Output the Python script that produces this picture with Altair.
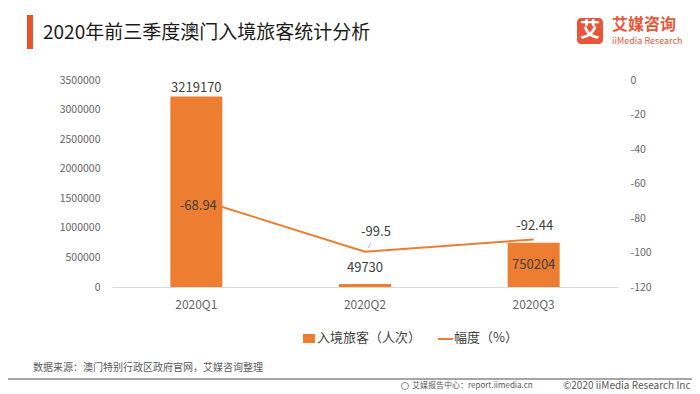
import altair as alt
import pandas as pd

quarters = ["2020Q1", "2020Q2", "2020Q3"]
visitors = [3219170, 49730, 750204]
change = [-68.94, -99.5, -92.44]

left_ticks = [0, 500000, 1000000, 1500000, 2000000, 2500000, 3000000, 3500000]
right_ticks = [0, -20, -40, -60, -80, -100, -120]

df = pd.DataFrame({"quarter": quarters, "visitors": visitors, "change": change})

FONT = "Noto Sans CJK SC"
ORANGE = "#ED7D31"
TXT = "#404040"
AX = "#666666"

xaxis = alt.Axis(title=None, labelAngle=0, ticks=False, domainColor="#D9D9D9",
                 domainWidth=1, labelFontSize=12, labelColor=AX, labelFont=FONT,
                 labelPadding=12)
xenc = alt.X("quarter:N", sort=quarters,
             scale=alt.Scale(paddingInner=0, paddingOuter=0), axis=xaxis)

yaxis1 = alt.Axis(title=None, values=left_ticks, grid=False, domain=False, ticks=False,
                  labelExpr="toString(datum.value)", labelFontSize=10.5, labelColor=AX,
                  labelFont=FONT, labelPadding=12)
yaxis2 = alt.Axis(title=None, orient="right", values=right_ticks, grid=False, domain=False,
                  ticks=False, labelExpr="toString(datum.value)", labelFontSize=10.5,
                  labelColor=AX, labelFont=FONT, labelPadding=12)

yscale1 = alt.Scale(domain=[0, 3500000], nice=False, zero=True)
yscale2 = alt.Scale(domain=[-120, 0], nice=False, zero=False)

y1 = alt.Y("visitors:Q", scale=yscale1, axis=yaxis1)
y2 = alt.Y("change:Q", scale=yscale2, axis=yaxis2)

bars = alt.Chart(df).mark_bar(size=52, color=ORANGE).encode(x=xenc, y=y1)

def bar_label(q, dy):
    return alt.Chart(df).transform_filter(alt.datum.quarter == q).mark_text(
        dy=dy, fontSize=13, color=TXT, font=FONT, baseline="middle"
    ).encode(x=xenc, y=y1, text=alt.Text("visitors:Q", format="d"))

left = alt.layer(bars, bar_label("2020Q1", -9), bar_label("2020Q2", -16), bar_label("2020Q3", 22))

line = alt.Chart(df).mark_line(color=ORANGE, strokeWidth=2).encode(x=xenc, y=y2)

def line_label(q, dx, dy):
    return alt.Chart(df).transform_filter(alt.datum.quarter == q).transform_calculate(
        lbl="toString(datum.change)"
    ).mark_text(dx=dx, dy=dy, fontSize=13, color=TXT, font=FONT, baseline="middle").encode(
        x=xenc, y=y2, text="lbl:N")

right = alt.layer(line, line_label("2020Q1", 2, 7), line_label("2020Q2", 11, -20),
                  line_label("2020Q3", 1, -13))

one = alt.Data(values=[{"a": 1}])

def txt(s, x, y, size, color, align="left", weight="normal"):
    return alt.Chart(one).mark_text(align=align, baseline="middle", fontSize=size, color=color,
                                    font=FONT, fontWeight=weight).encode(
        x=alt.value(x), y=alt.value(y), text=alt.value(s))

def rect(x1, x2, ya, yb, color, r=0):
    return alt.Chart(one).mark_rect(color=color, cornerRadius=r).encode(
        x=alt.value(x1), x2=alt.value(x2), y=alt.value(ya), y2=alt.value(yb))

def rule(x1, x2, ya, yb, color, w):
    return alt.Chart(one).mark_rule(color=color, strokeWidth=w).encode(
        x=alt.value(x1), x2=alt.value(x2), y=alt.value(ya), y2=alt.value(yb))

deco = [
    rect(-85, -79, -65, -31, "#E8552D"),
    txt("2020年前三季度澳门入境旅客统计分析", -69, -47, 19, "#1a1a1a"),
    rect(465, 491, -62, -36, "#E8563A", 4),
    txt("艾", 478, -49, 20, "white", align="center", weight="bold"),
    txt("艾媒咨询", 500, -55, 16, "#E8563A", weight="bold"),
    txt("iiMedia Research", 500, -39, 9, "#E8563A"),
    rule(256, 259, 168, 163, "#BFBFBF", 1),
    rect(191, 203, 254, 263, ORANGE),
    txt("入境旅客（人次）", 205, 258, 13, TXT),
    rule(326, 341, 259, 259, ORANGE, 2),
    txt("幅度（%）", 342, 258, 13, TXT),
    txt("数据来源：澳门特别行政区政府官网，艾媒咨询整理", -79, 288, 10, "#595959"),
    rule(-104, 580, 299, 299, "#A6A6A6", 2),
    alt.Chart(one).mark_point(shape="circle", size=50, color="#595959", strokeWidth=1).encode(
        x=alt.value(293), y=alt.value(306)),
    txt("艾媒报告中心：report.iimedia.cn", 300, 306, 8, "#595959"),
    txt("©2020  iiMedia Research  Inc", 451, 306, 10, "#595959"),
]

chart = alt.layer(left, right, *deco).resolve_scale(y="independent").properties(
    width=506, height=207,
    padding={"left": 104, "top": 72, "right": 74, "bottom": 105},
    autosize=alt.AutoSizeParams(type="none"),
).configure(font=FONT).configure_view(stroke=None)

chart.save("out.html", embed_options={"renderer": "svg", "actions": False})
